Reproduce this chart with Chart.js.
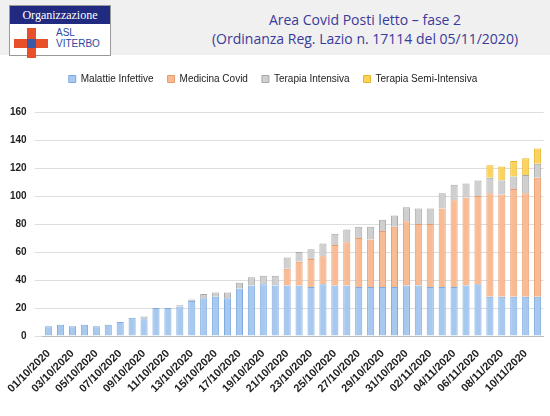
<!DOCTYPE html>
<html>
<head>
<meta charset="utf-8">
<script src="https://cdn.jsdelivr.net/npm/chart.js@4"></script>
<style>
  body { margin: 0; width: 550px; height: 416px; background: #fff; font-family: "Liberation Sans", sans-serif; overflow: hidden; }
  #header { position: absolute; left: 0; top: 0; width: 550px; height: 55px; background: #f0f0f0; }
  #logo { position: absolute; left: 9px; top: 5px; width: 100px; height: 49px; border: 1px solid #999; background: #fff; }
  #logo .band { height: 18px; background: #1f2a80; color: #fff; font-family: "Liberation Serif", serif; font-size: 12px; text-align: center; line-height: 18px; }
  #logo .asl { position: absolute; left: 46px; top: 21px; color: #2a4aa0; font-size: 10px; line-height: 11px; }
  .cross-h { position: absolute; left: 4px; top: 33px; width: 34px; height: 9px; background: #e8502a; }
  .cross-v { position: absolute; left: 17px; top: 22px; width: 9px; height: 30px; background: #e8502a; }
  .cross-c { position: absolute; left: 17px; top: 33px; width: 9px; height: 9px; background: #3a5aa8; }
  #title { position: absolute; left: 190px; top: 10px; width: 350px; text-align: center; color: #3a3a9a; font-family: "Open Sans", sans-serif; font-size: 14px; line-height: 19px; }
  #wrap { position: absolute; left: 0; top: 60px; width: 550px; height: 356px; }
</style>
</head>
<body>
<div id="header">
  <div id="logo">
    <div class="band">Organizzazione</div>
    <div class="cross-h"></div><div class="cross-v"></div><div class="cross-c"></div>
    <div class="asl">ASL<br>VITERBO</div>
  </div>
  <div id="title">Area Covid Posti letto – fase 2<br>(Ordinanza Reg. Lazio n. 17114 del 05/11/2020)</div>
</div>
<div id="wrap"><canvas id="chart"></canvas></div>
<script>
const days = [];
for (let d = 1; d <= 31; d++) days.push(String(d).padStart(2, '0') + '/10/2020');
for (let d = 1; d <= 11; d++) days.push(String(d).padStart(2, '0') + '/11/2020');

const malattieInfettive = [7, 8, 7, 8, 7, 8, 10, 13, 12, 20, 20, 21, 25, 27, 28, 27, 34, 36, 37, 36,
  36, 36, 35, 37, 36, 36, 35, 35, 35, 35, 36, 36, 35, 35, 35, 36, 37, 28, 28, 28, 28, 28];
const medicinaCovid = [0, 0, 0, 0, 0, 0, 0, 0, 0, 0, 0, 0, 0, 0, 0, 0, 0, 0, 0, 0,
  12, 17, 20, 20, 29, 31, 35, 34, 40, 43, 46, 44, 45, 56, 62, 63, 63, 74, 73, 77, 74, 85];
const terapiaIntensiva = [0, 0, 0, 0, 0, 0, 0, 0, 2, 0, 0, 1, 1, 3, 3, 4, 4, 6, 6, 7,
  8, 7, 7, 9, 8, 9, 8, 9, 8, 8, 10, 11, 11, 11, 11, 10, 11, 11, 10, 9, 13, 10];
const terapiaSemiIntensiva = [0, 0, 0, 0, 0, 0, 0, 0, 0, 0, 0, 0, 0, 0, 0, 0, 0, 0, 0, 0,
  0, 0, 0, 0, 0, 0, 0, 0, 0, 0, 0, 0, 0, 0, 0, 0, 0, 9, 10, 11, 12, 11];
const yTicks = [0, 20, 40, 60, 80, 100, 120, 140, 160];

const ds = (label, data, bg, border) => ({
  label, data, backgroundColor: bg, borderColor: border, borderWidth: 1,
  categoryPercentage: 0.9, barPercentage: 0.66
});

const font = { family: '"Liberation Sans", sans-serif', size: 10 };

new Chart(document.getElementById('chart'), {
  type: 'bar',
  data: {
    labels: days,
    datasets: [
      ds('Malattie Infettive', malattieInfettive, '#a7c9f0', '#7eaadf'),
      ds('Medicina Covid', medicinaCovid, '#f8bb93', '#e99a6a'),
      ds('Terapia Intensiva', terapiaIntensiva, '#cfcfcf', '#a8a8a8'),
      ds('Terapia Semi-Intensiva', terapiaSemiIntensiva, '#fbd35c', '#e6b52a')
    ]
  },
  plugins: [{
    id: 'legendGap',
    beforeInit(chart) {
      const fit = chart.legend.fit;
      chart.legend.fit = function () { fit.bind(chart.legend)(); this.height += 18; };
    }
  }],
  options: {
    responsive: true,
    maintainAspectRatio: false,
    animation: false,
    layout: { padding: { left: 2, right: 6, top: 0, bottom: 0 } },
    plugins: {
      legend: {
        labels: { boxWidth: 7, boxHeight: 7, color: '#222', font, padding: 14 }
      },
      tooltip: { enabled: false }
    },
    scales: {
      x: {
        stacked: true,
        grid: { display: false },
        border: { color: '#bbb' },
        afterFit: axis => { axis.height = 80; },
        ticks: {
          autoSkip: false, maxRotation: 45, minRotation: 45, color: '#222',
          font: { ...font, size: 11, weight: 'bold' },
          callback: (v, i) => (i % 2 === 0 ? days[i] : '')
        }
      },
      y: {
        stacked: true,
        min: 0, max: 160,
        afterBuildTicks: axis => { axis.ticks = yTicks.map(v => ({ value: v })); },
        grid: { color: '#dddddd' },
        border: { display: false },
        ticks: { color: '#222', font: { ...font, weight: 'bold' }, padding: 8 }
      }
    }
  }
});
</script>
</body>
</html>
